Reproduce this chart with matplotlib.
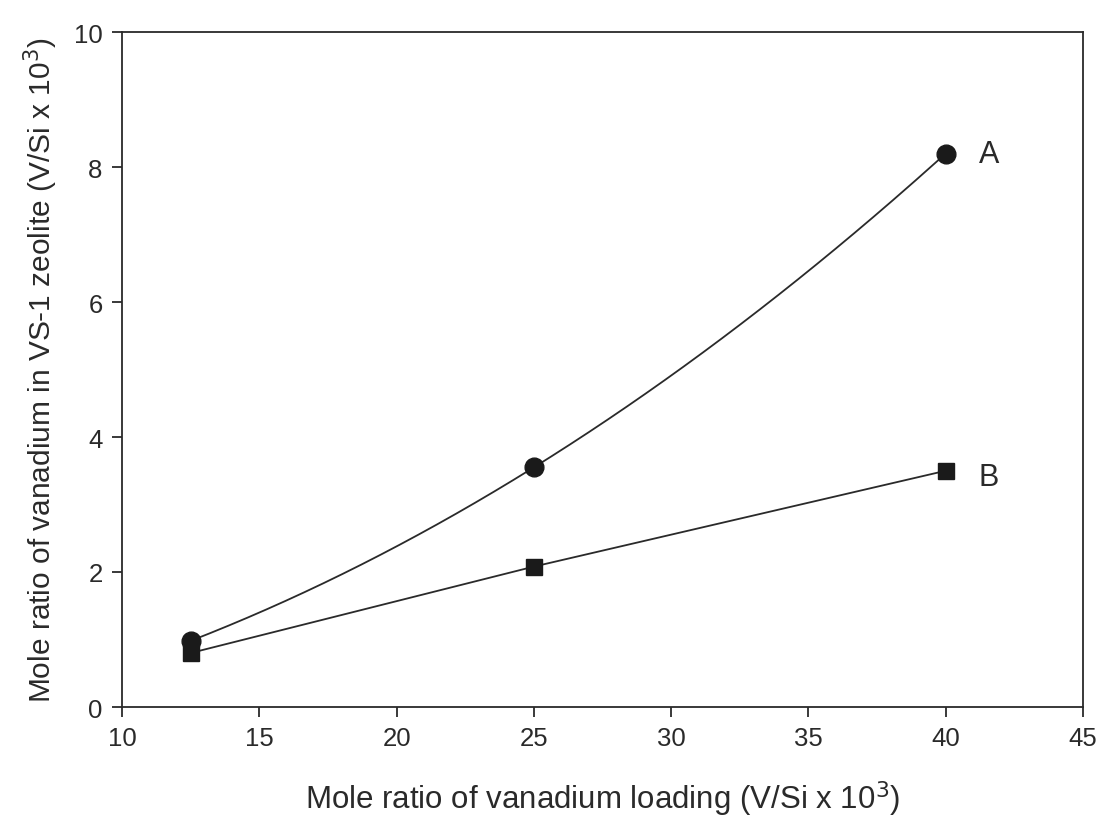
import numpy as np
import matplotlib
matplotlib.use("Agg")
import matplotlib.pyplot as plt

plt.rcParams['font.family'] = ['Liberation Sans', 'DejaVu Sans']

x_vals = [12.5, 25, 40]
series_a = [0.98, 3.55, 8.2]
series_b = [0.8, 2.08, 3.5]
x_ticks = [10, 15, 20, 25, 30, 35, 40, 45]
y_ticks = [0, 2, 4, 6, 8, 10]

fig = plt.figure(figsize=(11.03, 8.29), dpi=100)
ax = fig.add_axes([122/1103, 1-708/829, (1083-122)/1103, (708-33)/829])

# smooth curve through series A (quadratic interpolation)
coef = np.polyfit(x_vals, series_a, 2)
xs = np.linspace(x_vals[0], x_vals[-1], 200)
ax.plot(xs, np.polyval(coef, xs), color='#2a2a2a', lw=1.3)
ax.plot(x_vals, series_a, 'o', color='#1a1a1a', ms=13.5)
ax.plot(x_vals, series_b, '-', color='#2a2a2a', lw=1.3)
ax.plot(x_vals, series_b, 's', color='#1a1a1a', ms=11)

ax.text(41.2, series_a[-1], 'A', fontsize=22, va='center', ha='left', color='#2a2a2a')
ax.text(41.2, series_b[-1] - 0.1, 'B', fontsize=22, va='center', ha='left', color='#2a2a2a')

ax.set_xlim(10, 45)
ax.set_ylim(0, 10)
ax.set_xticks(x_ticks)
ax.set_yticks(y_ticks)
ax.tick_params(direction='out', length=7, width=1.3, labelsize=18.5, pad=7, color='#2a2a2a', labelcolor='#2a2a2a')
for s in ax.spines.values():
    s.set_linewidth(1.3)
    s.set_color('#2a2a2a')

ax.set_xlabel('Mole ratio of vanadium loading (V/Si x 10$^3$)', fontsize=22.5, labelpad=20, color='#2a2a2a')
ax.set_ylabel('Mole ratio of vanadium in VS-1 zeolite (V/Si x 10$^3$)', fontsize=21.5, labelpad=10, color='#2a2a2a')

fig.savefig('out.png', dpi=100)
